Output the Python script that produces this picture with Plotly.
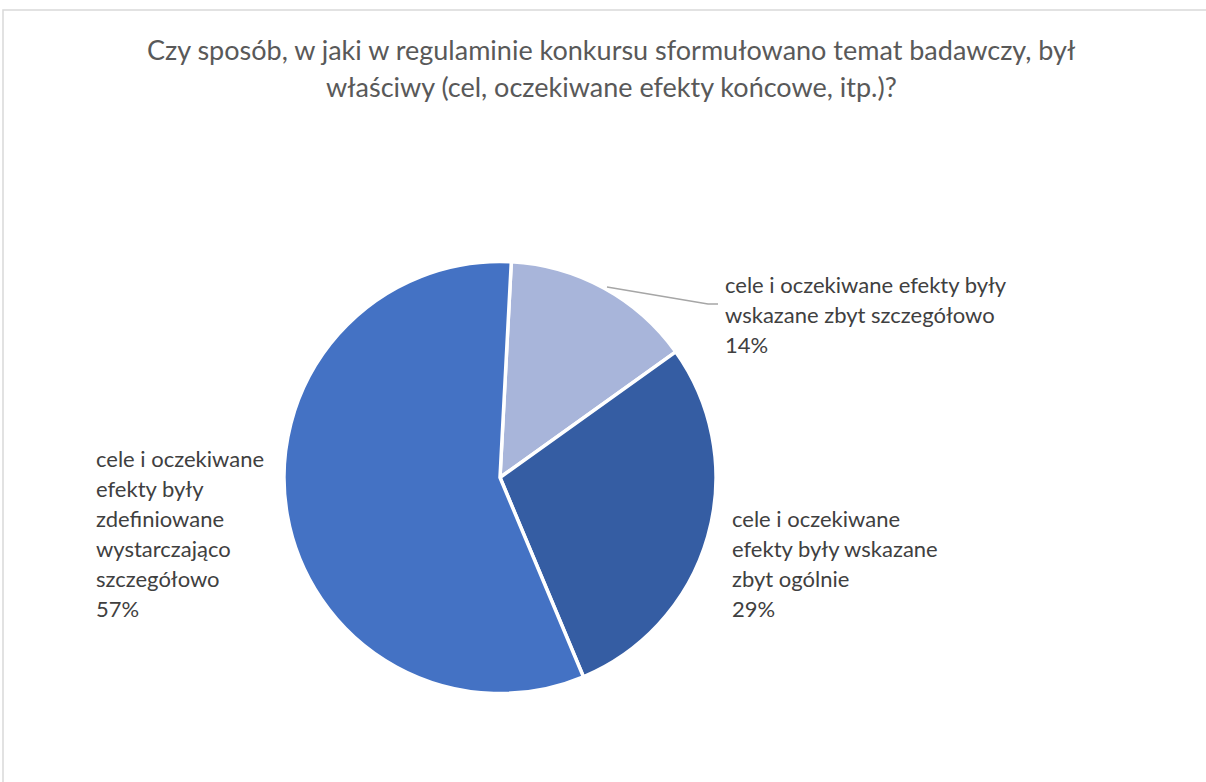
import plotly.graph_objects as go

W, H = 1206, 782

title_lines = [
    "Czy sposób, w jaki w regulaminie konkursu sformułowano temat badawczy, był",
    "właściwy (cel, oczekiwane efekty końcowe, itp.)?",
]
categories = [
    "cele i oczekiwane efekty były\nwskazane zbyt szczegółowo",
    "cele i oczekiwane\nefekty były wskazane\nzbyt ogólnie",
    "cele i oczekiwane\nefekty były\nzdefiniowane\nwystarczająco\nszczegółowo",
]
values = [1, 2, 4]
colors = ["#A8B5DA", "#355DA3", "#4472C4"]

FONT = "Lato"


def px(x):
    return x / W


def py(y):
    return 1 - y / H


cx, cy, r = 500, 477.5, 216

fig = go.Figure(
    go.Pie(
        labels=[c.replace("\n", " ") for c in categories],
        values=values,
        sort=False,
        direction="clockwise",
        rotation=3,
        marker=dict(colors=colors, line=dict(color="white", width=3.5)),
        textinfo="none",
        hoverinfo="label+percent",
        domain=dict(x=[px(cx - r), px(cx + r)], y=[py(cy + r), py(cy - r)]),
        showlegend=False,
    )
)

annotations = []
# title
for i, line in enumerate(title_lines):
    annotations.append(dict(
        text=line, x=px(611), y=py(50 + 37 * i), xref="paper", yref="paper",
        xanchor="center", yanchor="middle", showarrow=False,
        font=dict(family=FONT, size=27, color="#595959"),
    ))

# data labels (positions per slice)
label_pos = [(723, 284), (730, 518), (94, 458)]
total = sum(values)
for cat, v, (lx, ly) in zip(categories, values, label_pos):
    lines = cat.split("\n") + [f"{round(v / total * 100)}%"]
    for j, line in enumerate(lines):
        annotations.append(dict(
            text=line, x=px(lx), y=py(ly + 30 * j), xref="paper", yref="paper",
            xanchor="left", yanchor="middle", showarrow=False,
            font=dict(family=FONT, size=22, color="#404040"),
        ))

shapes = [
    # chart border
    dict(type="rect", xref="paper", yref="paper", x0=px(3), x1=px(1220),
         y0=py(800), y1=py(10), line=dict(color="#D9D9D9", width=1.5)),
    # leader line
    dict(type="path", xref="paper", yref="paper",
         path=f"M {px(607)},{py(287)} L {px(708)},{py(304)} L {px(718)},{py(304)}",
         line=dict(color="#A6A6A6", width=1.5)),
]

fig.update_layout(
    width=W, height=H,
    margin=dict(l=0, r=0, t=0, b=0),
    paper_bgcolor="white",
    annotations=annotations,
    shapes=shapes,
)

fig.write_html("out.html")
